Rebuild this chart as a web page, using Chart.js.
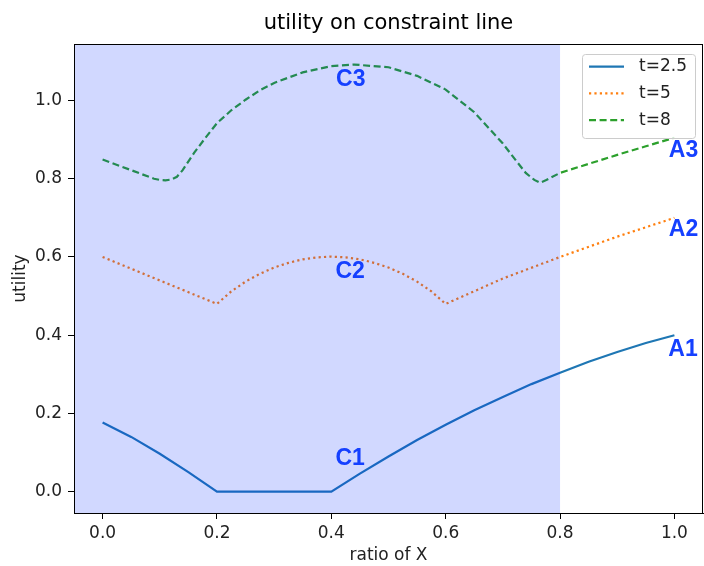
<!DOCTYPE html>
<html>
<head>
<meta charset="utf-8">
<script src="https://cdn.jsdelivr.net/npm/chart.js@4.4.1/dist/chart.umd.min.js"></script>
<style>
  html, body { margin: 0; padding: 0; background: #ffffff; }
  #c { display: block; }
</style>
</head>
<body>
<canvas id="c" width="704" height="566"></canvas>
<script>
// utility along the constraint line, one series per t
const xT25 = [0, 0.05, 0.1, 0.15, 0.2, 0.4, 0.45, 0.5, 0.55, 0.6, 0.65, 0.7, 0.75, 0.8, 0.85, 0.9, 0.95, 1.0];
const yT25 = [0.177, 0.140, 0.097, 0.050, 0, 0, 0.046, 0.090, 0.132, 0.171, 0.208, 0.242, 0.275, 0.304, 0.332, 0.357, 0.380, 0.400];

const xT5 = [0, 0.2, 0.225, 0.25, 0.275, 0.3, 0.325, 0.35, 0.375, 0.4, 0.425, 0.45, 0.475, 0.5, 0.525, 0.55, 0.575, 0.6, 0.7, 0.8, 0.9, 1.0];
const yT5 = [0.600, 0.480, 0.512, 0.537, 0.557, 0.573, 0.585, 0.594, 0.599, 0.601, 0.599, 0.594, 0.585, 0.573, 0.557, 0.537, 0.512, 0.480, 0.545, 0.600, 0.652, 0.700];

const xT8 = [0, 0.05, 0.09, 0.1, 0.11, 0.12, 0.13, 0.14, 0.16, 0.18, 0.2, 0.225, 0.25, 0.275, 0.3, 0.35, 0.4, 0.44, 0.5, 0.55, 0.6, 0.65, 0.7, 0.72, 0.74, 0.755, 0.765, 0.775, 0.8, 0.85, 0.9, 0.95, 1.0];
const yT8 = [0.849, 0.822, 0.800, 0.797, 0.796, 0.798, 0.805, 0.822, 0.866, 0.905, 0.942, 0.975, 1.002, 1.026, 1.045, 1.072, 1.088, 1.092, 1.085, 1.063, 1.028, 0.970, 0.890, 0.852, 0.815, 0.797, 0.790, 0.796, 0.815, 0.838, 0.861, 0.883, 0.905];

const seriesNames = ['t=2.5', 't=5', 't=8'];
const xTicks = [0, 0.2, 0.4, 0.6, 0.8, 1.0];
const yTicks = [0, 0.2, 0.4, 0.6, 0.8, 1.0];
const shadeEnd = 0.8;

// point names written next to the curves
const markNames = ['C1', 'C2', 'C3', 'A1', 'A2', 'A3'];
const markX = [0.433, 0.433, 0.434, 1.015, 1.016, 1.016];
const markY = [0.088, 0.568, 1.059, 0.369, 0.675, 0.877];

const FONT = 'DejaVu Sans';
Chart.defaults.font.family = FONT;

function pairs(xs, ys) { return xs.map((x, i) => ({ x: x, y: ys[i] })); }

const colors = ['#1f77b4', '#ff7f0e', '#2ca02c'];
const dashes = [[], [2.2, 3.2], [7, 3.6]];

// shaded band over x < 0.8, names, frame and legend
const overlay = {
  id: 'overlay',
  afterDatasetsDraw(chart) {
    const { ctx, chartArea: a, scales: { x, y } } = chart;
    ctx.save();
    ctx.fillStyle = 'rgba(0, 40, 255, 0.18)';
    const xe = x.getPixelForValue(shadeEnd);
    ctx.fillRect(a.left, a.top, xe - a.left, a.bottom - a.top);

    ctx.fillStyle = '#1540ff';
    ctx.font = 'bold 23px "Liberation Sans"';
    ctx.textAlign = 'center';
    ctx.textBaseline = 'alphabetic';
    markNames.forEach((n, i) => {
      ctx.fillText(n, x.getPixelForValue(markX[i]), y.getPixelForValue(markY[i]) + 0.358 * 23);
    });

    ctx.strokeStyle = '#000000';
    ctx.lineWidth = 1;
    ctx.strokeRect(Math.round(a.left) + 0.5, Math.round(a.top) + 0.5,
                   Math.round(a.right - a.left) - 1, Math.round(a.bottom - a.top));
    ctx.restore();
  },
  afterDraw(chart) {
    const { ctx, chartArea: a } = chart;
    const w = 113, h = 84;
    const lx = a.right - 8 - w, ly = a.top + 10;
    ctx.save();
    ctx.beginPath();
    ctx.roundRect(lx + 0.5, ly + 0.5, w, h, 3);
    ctx.fillStyle = 'rgba(255,255,255,0.8)';
    ctx.fill();
    ctx.strokeStyle = '#cccccc';
    ctx.lineWidth = 1;
    ctx.stroke();
    chart.data.datasets.forEach((ds, i) => {
      const yy = ly + 12.7 + i * 26.7;
      ctx.beginPath();
      ctx.setLineDash(ds.borderDash || []);
      ctx.lineCap = 'butt';
      ctx.strokeStyle = ds.borderColor;
      ctx.lineWidth = ds.borderWidth;
      ctx.moveTo(lx + 7, yy);
      ctx.lineTo(lx + 42, yy);
      ctx.stroke();
      ctx.setLineDash([]);
      ctx.fillStyle = '#222222';
      ctx.font = '17px "' + FONT + '"';
      ctx.textAlign = 'left';
      ctx.textBaseline = 'middle';
      ctx.fillText(ds.label, lx + 57, yy);
    });
    ctx.restore();
  }
};

const tickFont = { family: FONT, size: 17 };

new Chart(document.getElementById('c'), {
  type: 'scatter',
  data: {
    datasets: [
      { label: seriesNames[0], data: pairs(xT25, yT25) },
      { label: seriesNames[1], data: pairs(xT5, yT5) },
      { label: seriesNames[2], data: pairs(xT8, yT8) }
    ].map((d, i) => Object.assign(d, {
      showLine: true,
      borderColor: colors[i],
      backgroundColor: colors[i],
      borderWidth: 2.2,
      borderDash: dashes[i],
      borderCapStyle: 'butt',
      pointRadius: 0,
      pointHoverRadius: 0,
      tension: 0
    }))
  },
  options: {
    responsive: false,
    animation: false,
    devicePixelRatio: 1,
    layout: { padding: { left: 0, right: 1, top: 0, bottom: 0 } },
    plugins: {
      legend: { display: false },
      tooltip: { enabled: false },
      title: {
        display: true,
        fullSize: false,
        text: 'utility on constraint line',
        color: '#000000',
        font: { family: FONT, size: 21, weight: 'normal' },
        padding: { top: 11, bottom: 7.8 }
      }
    },
    scales: {
      x: {
        type: 'linear',
        min: -0.05,
        max: 1.05,
        afterBuildTicks: s => { s.ticks = xTicks.map(v => ({ value: v })); },
        afterFit: s => { s.height = 53; },
        grid: { drawOnChartArea: false, drawTicks: true, tickLength: 6, color: '#000000' },
        border: { display: true, color: '#000000', width: 1 },
        ticks: { padding: 4, color: '#222222', font: tickFont, maxRotation: 0, autoSkip: false,
                 callback: v => Number(v).toFixed(1) },
        title: { display: true, text: 'ratio of X', color: '#222222', font: tickFont, padding: { top: 0, bottom: 0 } }
      },
      y: {
        type: 'linear',
        min: -0.0545,
        max: 1.1445,
        afterBuildTicks: s => { s.ticks = yTicks.map(v => ({ value: v })); },
        afterFit: s => { s.width = 74; },
        grid: { drawOnChartArea: false, drawTicks: true, tickLength: 6, color: '#000000' },
        border: { display: true, color: '#000000', width: 1 },
        ticks: { padding: 6, color: '#222222', font: tickFont, autoSkip: false,
                 callback: v => Number(v).toFixed(1) },
        title: { display: true, text: 'utility', color: '#222222', font: tickFont, padding: { top: 10, bottom: 0 } }
      }
    }
  },
  plugins: [overlay]
});
</script>
</body>
</html>
